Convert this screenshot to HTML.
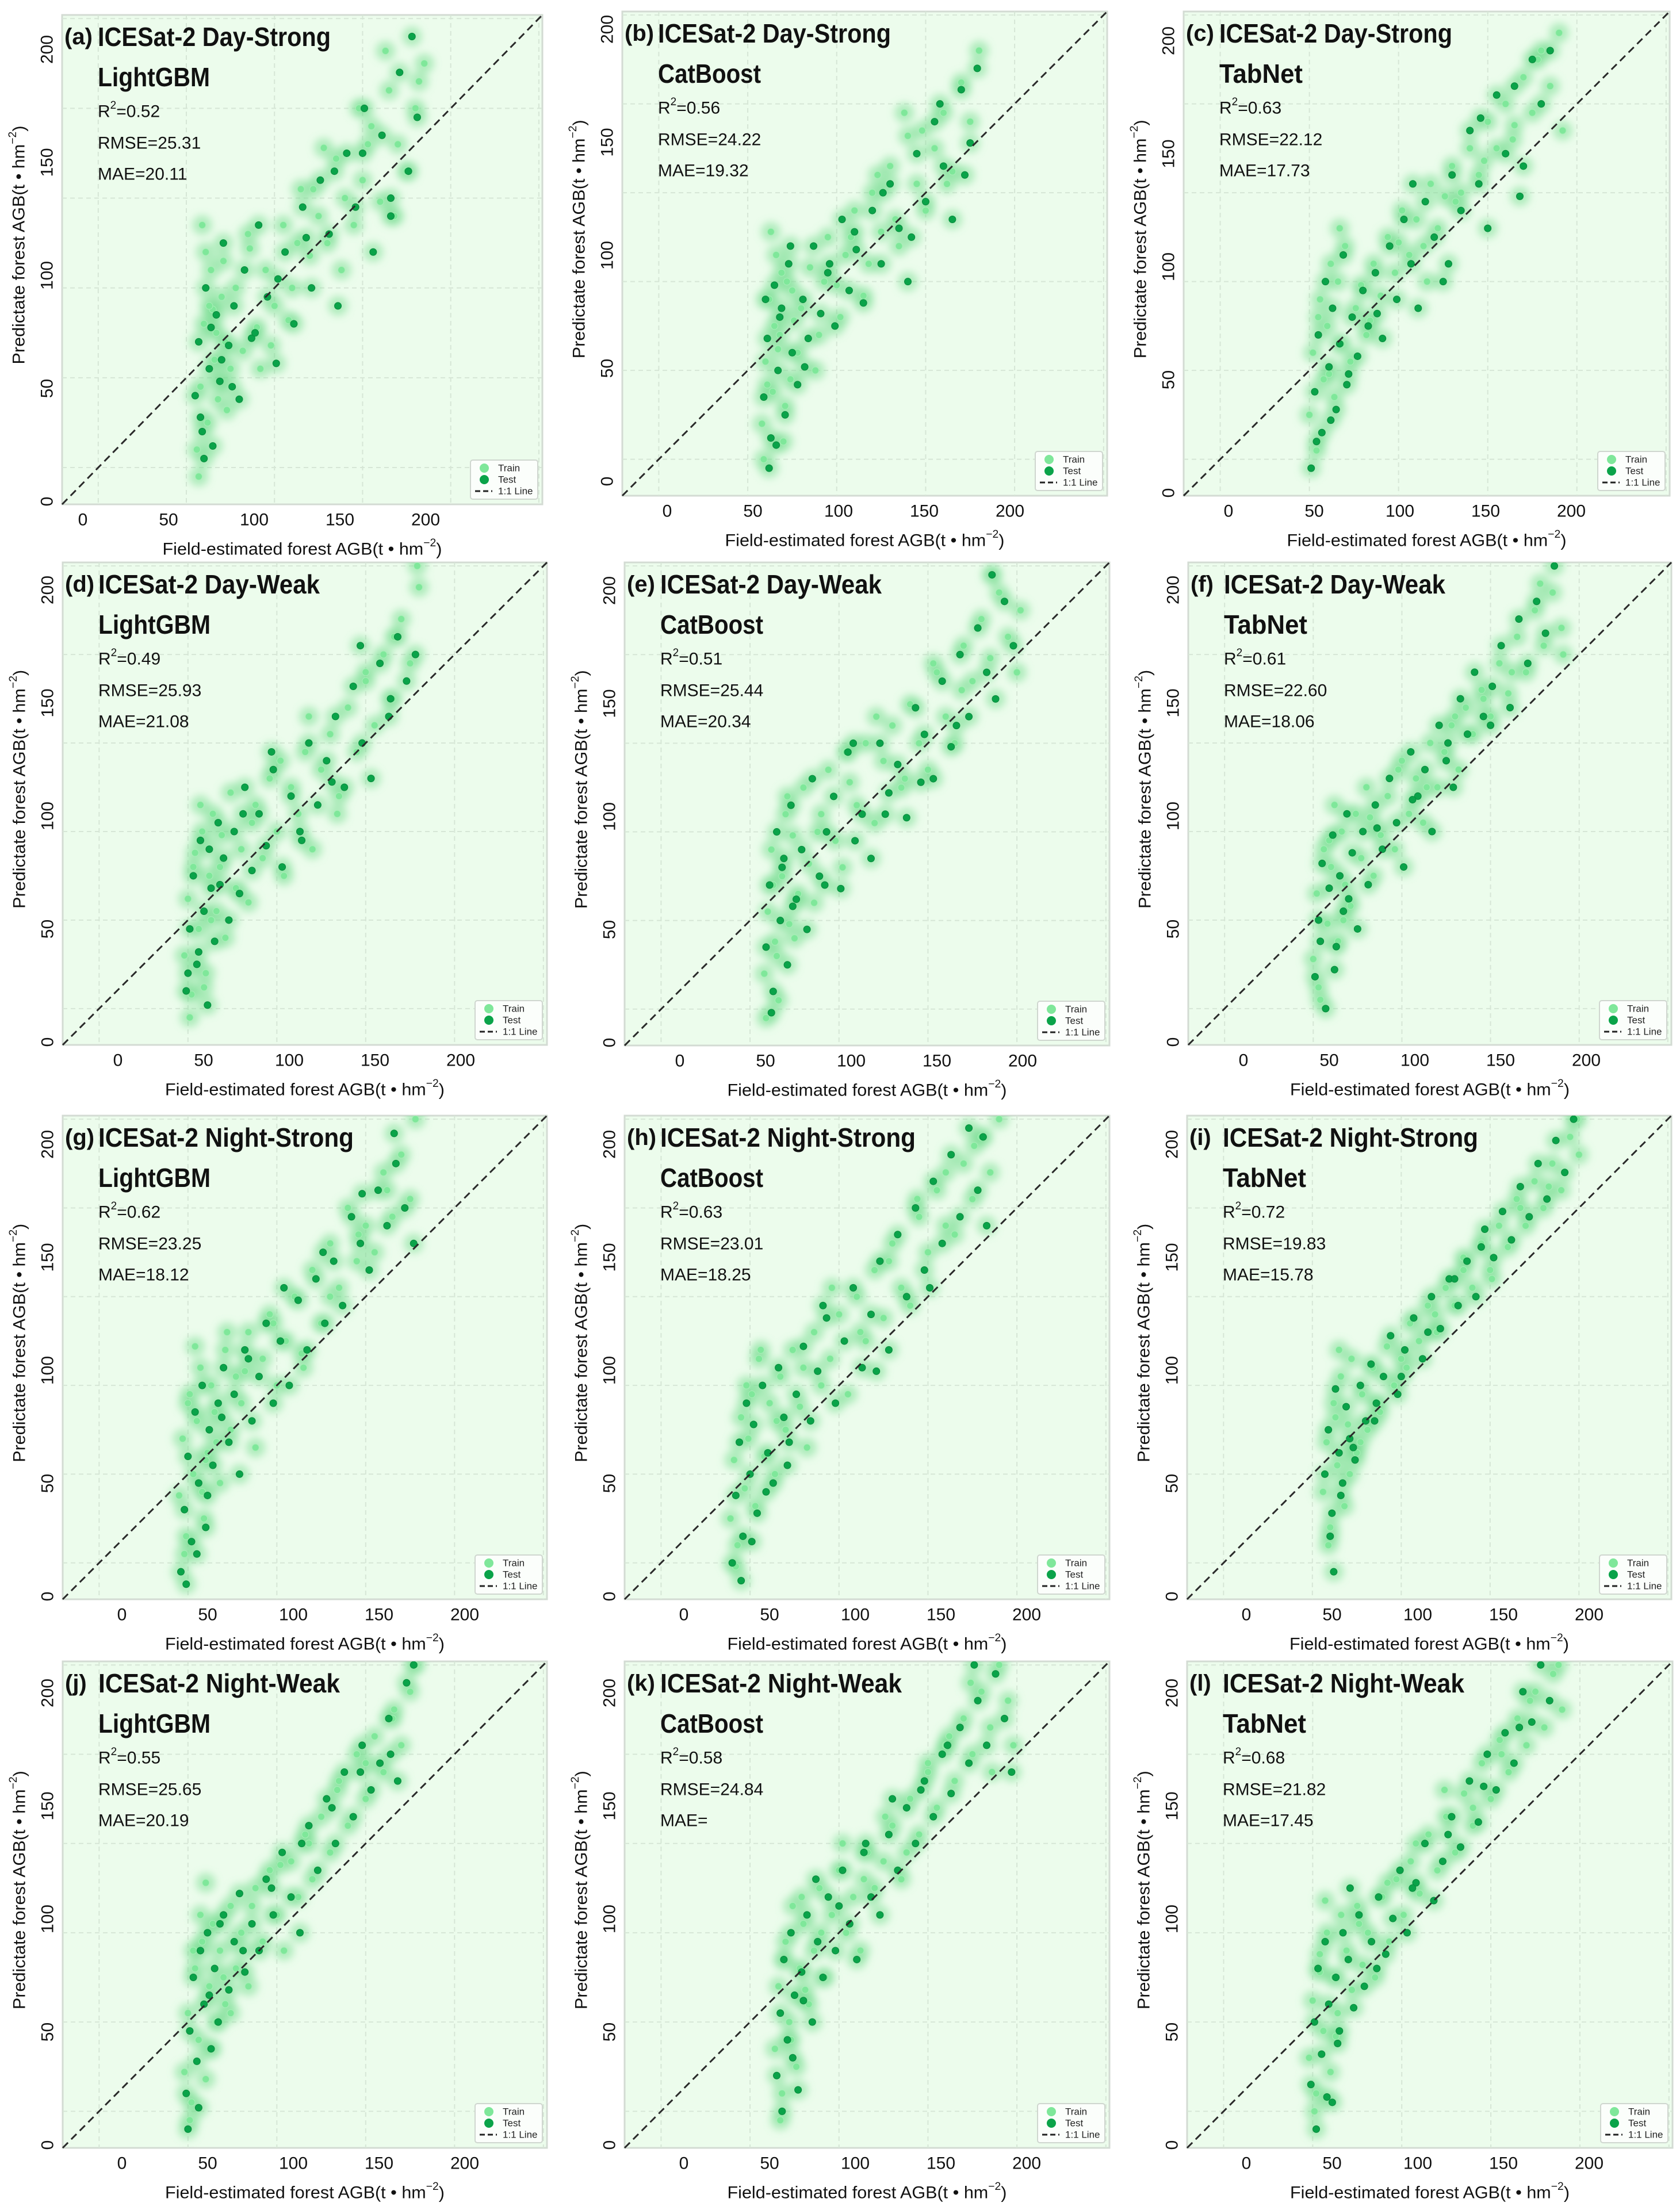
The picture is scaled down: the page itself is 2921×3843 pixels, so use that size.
<!DOCTYPE html>
<html><head><meta charset="utf-8"><title>ICESat-2 AGB model scatter plots</title>
<style>
html,body{margin:0;padding:0;background:#fff;}
svg{display:block;font-family:"Liberation Sans",sans-serif;}
</style></head>
<body>
<svg id="fig" xmlns="http://www.w3.org/2000/svg" width="2921" height="3843" viewBox="0 0 2921 3843">
<defs><filter id="soft" x="-20%" y="-20%" width="140%" height="140%"><feGaussianBlur stdDeviation="7"/></filter></defs>
</svg>
<script>
// ---- data (axis units) ----
const gridVals = [50,100,150,200,250,300];
const tickVals = [0,50,100,150,200];
const domainLo = 29.5, domainHi = 302;

const trainX_a=[106,108,110,112,114,116,118,120,122,125,107,111,115,119,123,128,132,136,140,145,150,155,160,165,170,175,180,185,190,195,200,205,210,215,220,225,230,235,142,158,172,188,203,218,232,109,113,117,121,135,148,163,178,198,213];
const trainY_a=[60,95,130,75,160,110,88,145,120,105,45,170,138,98,82,150,115,172,128,160,140,185,150,205,168,190,175,222,200,185,210,240,198,260,230,215,250,275,105,132,205,160,230,190,265,185,140,125,165,180,118,175,228,250,282];
const testX_a=[105,107,109,111,113,115,117,119,121,124,127,130,133,137,141,146,151,156,161,166,171,176,181,186,191,196,201,206,211,216,221,226,231,108,114,120,126,139,152,168,184,200,216,228,110];
const testY_a=[90,120,70,150,105,62,135,98,175,118,140,88,160,122,185,145,108,170,130,195,150,210,180,140,225,195,250,170,235,200,270,215,245,78,128,110,95,125,155,178,215,225,190,290,55];

const trainX_b=[108,110,112,114,116,118,120,122,124,126,109,113,117,121,125,130,135,140,145,150,155,160,165,170,175,180,185,190,195,200,205,210,215,220,225,230,138,152,168,183,198,212,111,115,119,128,143,158,173,188];
const trainY_b=[70,105,140,88,165,120,60,150,95,128,50,178,112,80,145,135,158,120,175,148,165,190,142,200,178,215,170,232,205,190,225,245,212,262,240,280,100,130,160,185,235,205,92,125,155,110,150,175,210,245];
const testX_b=[109,111,113,115,117,119,121,123,125,128,131,134,137,141,145,149,153,157,161,165,170,175,180,185,190,195,200,205,210,215,220,225,229,112,118,124,132,146,160,176,192,208,222,110,116];
const testY_b=[85,118,62,148,100,135,75,160,110,92,140,118,170,132,155,125,185,145,168,138,190,160,205,180,150,222,195,240,215,185,258,228,270,45,130,170,102,160,178,200,175,250,210,140,58];

const trainX_c=[100,102,104,106,108,110,112,114,116,118,120,123,126,129,132,136,140,144,148,152,156,160,164,168,172,176,180,185,190,195,200,205,210,215,220,225,230,235,240,242,105,111,117,134,150,166,182,198,214,228];
const trainY_c=[75,110,55,140,95,125,160,85,150,115,170,105,135,148,120,160,142,175,155,190,165,185,170,205,180,198,215,200,225,210,240,225,250,238,265,245,280,260,290,235,130,98,180,128,172,150,195,218,230,275];
const testX_c=[101,103,105,107,109,111,113,115,117,119,121,124,127,130,133,137,141,145,149,153,157,161,165,170,175,180,185,190,195,200,205,210,215,220,225,230,235,104,112,122,138,158,178,196,218];
const testY_c=[45,88,120,65,150,102,135,78,115,165,92,130,108,145,125,155,118,170,140,185,160,135,195,175,150,210,190,235,205,180,255,222,260,215,275,250,280,60,72,98,132,205,160,242,198];

const trainX_d=[98,100,102,104,106,108,110,112,114,116,118,121,124,127,130,134,138,142,146,150,154,158,162,166,170,175,180,185,190,195,200,205,210,215,220,225,230,101,107,113,119,136,152,168,184,200,216,229,103,109];
const trainY_d=[80,112,58,138,95,150,70,125,160,105,130,90,172,118,140,110,165,135,180,150,125,175,160,195,140,185,205,170,220,195,235,210,250,225,270,245,288,45,165,100,148,155,190,215,160,240,260,300,130,62];
const testX_d=[99,101,103,105,107,109,111,113,115,117,120,123,126,129,132,136,140,144,148,153,158,163,168,173,178,183,188,193,198,203,208,213,218,223,228,100,106,112,118,131,147,164,181,197,214];
const testY_d=[60,95,125,75,145,105,52,118,88,155,135,100,150,115,175,128,160,142,185,130,170,150,200,165,190,215,175,232,200,180,245,215,260,235,250,70,82,140,120,160,195,145,178,255,225];

const trainX_e=[108,110,112,114,116,118,120,122,124,127,130,133,136,140,144,148,152,156,160,165,170,175,180,185,190,195,200,205,210,215,220,225,230,235,240,245,250,109,115,121,138,154,171,187,203,219,236,252,113,125];
const trainY_e=[70,105,140,88,55,125,160,98,148,115,175,132,110,160,185,145,130,178,165,200,155,190,210,175,222,200,185,240,215,200,255,235,270,248,285,260,240,45,80,170,150,195,215,180,245,230,295,275,120,90];
const testX_e=[109,111,113,115,117,119,121,123,126,129,132,135,139,143,147,151,155,159,163,168,173,178,183,188,193,198,203,208,213,218,223,228,233,238,243,248,112,118,124,142,158,176,196,216,236];
const testY_e=[85,120,60,150,100,135,75,165,112,140,95,180,125,150,170,118,195,145,160,135,200,172,188,158,220,205,180,235,198,250,215,265,240,225,280,255,48,130,108,120,200,160,178,210,295];

const trainX_f=[100,102,104,106,108,110,112,114,116,118,121,124,127,130,134,138,142,146,150,154,158,162,166,170,174,178,182,186,190,195,200,205,210,215,220,225,230,235,240,103,109,117,132,148,164,180,196,212,228,241];
const trainY_f=[78,115,55,140,98,130,165,88,150,120,108,160,135,175,125,148,170,140,190,160,180,155,200,175,195,210,185,220,205,230,215,245,228,260,240,275,255,285,265,62,145,100,158,185,175,215,225,240,290,250];
const testX_f=[101,103,105,107,109,111,113,115,117,119,122,125,128,131,135,139,143,147,151,155,159,163,167,171,175,179,183,187,191,196,201,206,211,216,221,226,231,236,104,112,120,136,156,176,200];
const testY_f=[68,100,132,50,118,148,85,125,105,160,138,95,150,120,165,140,180,155,130,195,170,185,150,210,190,175,225,205,240,215,232,255,220,270,245,280,262,300,88,72,112,152,168,200,210];

const trainX_g=[95,97,99,101,103,105,107,109,111,113,115,118,121,124,127,130,134,138,142,146,150,155,160,165,170,175,180,185,190,195,200,205,210,215,220,225,228,98,104,110,116,132,148,164,180,196,212,100,108,122];
const trainY_g=[88,120,65,145,100,130,160,75,112,150,135,95,170,125,155,140,180,115,165,190,150,175,200,160,215,185,230,205,250,220,240,225,270,245,280,255,300,55,172,108,118,158,185,168,200,235,260,140,90,180];
const testX_g=[96,98,100,102,104,106,108,110,112,114,117,120,123,126,129,132,136,140,144,148,152,157,162,167,172,177,182,187,192,197,202,207,212,217,222,227,99,105,111,119,134,154,176,198,216];
const testY_g=[45,80,110,62,135,95,150,70,125,105,140,160,118,145,100,170,130,155,185,140,175,150,198,170,210,185,220,195,245,230,215,260,240,275,250,230,38,55,88,132,165,205,225,258,292];

const trainX_h=[89,91,93,95,97,99,101,103,105,108,111,114,117,120,124,128,132,136,140,145,150,155,160,165,170,175,180,185,190,195,200,205,210,215,220,225,230,235,240,92,98,106,115,130,146,162,178,194,210,226];
const trainY_h=[75,108,60,132,92,120,145,82,165,110,140,100,155,125,170,138,115,180,150,165,190,145,200,175,215,188,230,205,195,245,225,260,240,235,275,255,290,270,300,48,150,170,130,160,205,180,220,255,270,285];
const testX_h=[90,92,94,96,98,100,102,104,107,110,113,116,119,122,126,130,134,138,143,148,153,158,163,168,173,178,183,188,193,198,203,208,213,218,223,228,233,95,101,109,121,141,171,201,231];
const testY_h=[50,88,118,65,140,100,128,78,150,112,95,160,132,118,145,172,130,158,188,140,175,205,160,190,220,170,235,200,250,215,265,230,280,245,295,260,240,40,62,90,105,195,158,205,290];

const trainX_i=[106,108,110,112,114,116,118,120,122,125,128,131,134,138,142,146,150,155,160,165,170,175,180,185,190,195,200,205,210,215,220,225,230,235,240,245,250,109,115,121,137,153,169,185,201,217,233,249,113,127];
const trainY_i=[90,118,70,140,105,155,82,128,165,112,145,125,160,135,172,150,165,185,175,195,180,205,195,215,205,230,215,240,228,255,240,265,250,275,260,290,280,60,170,100,140,160,190,222,210,250,262,300,132,118];
const testX_i=[107,109,111,113,115,117,119,121,124,127,130,133,136,140,144,148,152,157,162,167,172,177,182,187,192,197,202,207,212,217,222,227,232,237,242,247,110,116,123,135,150,165,180,195,112];
const testY_i=[100,125,78,148,112,95,138,120,108,150,130,162,140,155,178,145,170,188,165,200,182,210,195,220,200,238,222,248,232,262,245,275,255,288,270,300,65,88,115,130,155,180,210,228,45];

const trainX_j=[98,100,102,104,106,108,110,112,114,116,118,121,124,127,130,134,138,142,146,150,154,158,162,166,170,175,180,185,190,195,200,205,210,215,220,225,228,101,107,113,120,136,152,168,184,200,216,103,110,124];
const trainY_j=[72,105,55,130,90,145,68,120,155,100,140,110,165,130,150,120,175,145,185,160,140,190,170,205,180,215,195,235,210,250,225,260,240,270,255,285,300,45,160,85,125,165,188,200,230,245,275,140,178,105];
const testX_j=[99,101,103,105,107,109,111,113,115,117,120,123,126,129,132,136,140,144,148,153,158,163,168,173,178,183,188,193,198,203,208,213,218,223,227,100,106,112,118,131,147,164,181,197,214];
const testY_j=[60,95,125,78,140,110,150,85,130,100,160,118,145,172,128,155,140,180,160,195,170,150,210,185,225,200,240,215,255,230,245,270,235,290,300,40,52,115,155,140,175,200,220,240,250];

const trainX_k=[114,116,118,120,122,124,126,128,130,133,136,139,142,146,150,154,158,162,166,170,175,180,185,190,195,200,205,210,215,220,225,230,235,240,245,248,117,123,129,140,152,164,176,188,200,212,224,236,119,131];
const trainY_k=[85,120,60,145,100,165,75,130,155,110,140,175,125,160,185,150,170,140,195,175,190,210,180,225,205,240,220,255,235,270,250,285,265,300,280,255,45,90,170,150,200,180,215,195,245,260,290,240,135,118];
const testX_k=[115,117,119,121,123,125,127,129,132,135,138,141,144,148,152,156,160,164,168,173,178,183,188,193,198,203,208,213,218,223,228,233,238,243,247,118,124,130,137,150,165,180,196,211,226];
const testY_k=[70,105,135,90,150,115,62,128,160,100,145,125,170,140,185,155,135,195,170,160,205,185,220,200,235,215,250,228,265,245,280,255,295,270,240,50,80,112,180,165,200,225,230,255,300];

const trainX_l=[98,100,102,104,106,108,110,112,114,116,119,122,125,128,131,135,139,143,147,151,155,160,165,170,175,180,185,190,195,200,205,210,215,220,225,230,235,240,101,107,113,126,142,158,174,190,206,222,238,104];
const trainY_l=[80,112,60,138,95,150,72,125,105,160,140,118,165,132,150,125,170,145,180,160,190,172,205,185,215,195,228,210,245,225,258,240,270,255,285,265,295,275,50,168,92,155,178,200,230,220,250,280,300,128];
const testX_l=[99,101,103,105,107,109,111,113,115,117,120,123,126,129,133,137,141,145,149,153,158,163,168,173,178,183,188,193,198,203,208,213,218,223,228,233,102,108,114,121,136,156,176,196,216];
const testY_l=[65,100,130,82,145,110,55,125,95,150,135,108,160,120,145,170,138,158,185,150,178,200,168,190,215,198,235,212,250,230,262,245,285,268,300,280,40,58,88,175,130,175,205,232,265];

const panelTags=['a','b','c','d','e','f','g','h','i','j','k','l'];
const panelTitles=['ICESat-2 Day-Strong','ICESat-2 Day-Strong','ICESat-2 Day-Strong','ICESat-2 Day-Weak','ICESat-2 Day-Weak','ICESat-2 Day-Weak','ICESat-2 Night-Strong','ICESat-2 Night-Strong','ICESat-2 Night-Strong','ICESat-2 Night-Weak','ICESat-2 Night-Weak','ICESat-2 Night-Weak'];
const panelModels=['LightGBM','CatBoost','TabNet','LightGBM','CatBoost','TabNet','LightGBM','CatBoost','TabNet','LightGBM','CatBoost','TabNet'];
const panelR2=['0.52','0.56','0.63','0.49','0.51','0.61','0.62','0.63','0.72','0.55','0.58','0.68'];
const panelRMSE=['25.31','24.22','22.12','25.93','25.44','22.60','23.25','23.01','19.83','25.65','24.84','21.82'];
const panelMAE=['20.11','19.32','17.73','21.08','20.34','18.06','18.12','18.25','15.78','20.19','','17.45'];
const dataTrainX=[trainX_a,trainX_b,trainX_c,trainX_d,trainX_e,trainX_f,trainX_g,trainX_h,trainX_i,trainX_j,trainX_k,trainX_l];
const dataTrainY=[trainY_a,trainY_b,trainY_c,trainY_d,trainY_e,trainY_f,trainY_g,trainY_h,trainY_i,trainY_j,trainY_k,trainY_l];
const dataTestX=[testX_a,testX_b,testX_c,testX_d,testX_e,testX_f,testX_g,testX_h,testX_i,testX_j,testX_k,testX_l];
const dataTestY=[testY_a,testY_b,testY_c,testY_d,testY_e,testY_f,testY_g,testY_h,testY_i,testY_j,testY_k,testY_l];

// ---- layout (pixels) ----
const boxes=[[108,26,835,851],[1082,20,843,842],[2058,20,845,842],
 [109,978,842,839],[1086,978,843,840],[2066,978,840,839],
 [109,1940,842,841],[1086,1940,843,841],[2064,1940,842,841],
 [109,2889,842,846],[1086,2889,843,846],[2064,2889,844,846]];
const xLabOff=[30,72,72,90,90,90,97,97,97,97,97,97];
const yLabOff=[0,20,0,0,0,0,0,0,0,0,0,0];
const titleWidths={'ICESat-2 Day-Strong':405,'ICESat-2 Day-Weak':385,'ICESat-2 Night-Strong':444,'ICESat-2 Night-Weak':420};
const modelWidths={'LightGBM':195,'CatBoost':179,'TabNet':145};

const NS='http://www.w3.org/2000/svg';
const svg=document.getElementById('fig');
function mk(tag,attrs,parent){const e=document.createElementNS(NS,tag);for(const k in attrs)e.setAttribute(k,attrs[k]);(parent||svg).appendChild(e);return e;}

panelTags.forEach((tag,i)=>{
  const [bx,by,W,H]=boxes[i];
  const sx=v=>bx+(v-domainLo)/(domainHi-domainLo)*W;
  const sy=v=>by+H-(v-domainLo)/(domainHi-domainLo)*H;
  const tx=v=>bx+xLabOff[i]+6+2.98*v;
  const ty=v=>by+H-yLabOff[i]-(5+3.93*v);

  const g=mk('g',{});
  
  

  const bg=mk('rect',{x:bx,y:by,width:W,height:H,fill:'#ecfcec',stroke:'#d3dbd3','stroke-width':3},g);
  
  

  const cp=mk('clipPath',{id:'clip'+tag},g);
  mk('rect',{x:bx,y:by,width:W,height:H},cp);

  const grid=mk('g',{stroke:'#d6e6d6','stroke-width':2,'stroke-dasharray':'8 6'},g);
  
  
  gridVals.forEach(v=>{
    if(sx(v)<bx+W){const l=mk('line',{x1:sx(v),x2:sx(v),y1:by,y2:by+H},grid);
    
    }
    if(sy(v)>by){const l2=mk('line',{x1:bx,x2:bx+W,y1:sy(v),y2:sy(v)},grid);
    
    }
  });

  const pts=mk('g',{'clip-path':'url(#clip'+tag+')'},g);
  
  
  const halo=mk('g',{fill:'#6fdc8c','fill-opacity':0.5,filter:'url(#soft)'},pts);
  
  
  const allX=dataTrainX[i].concat(dataTestX[i]), allY=dataTrainY[i].concat(dataTestY[i]);
  for(let k=0;k<Math.min(allX.length,allY.length);k++){
    const h=mk('circle',{cx:sx(allX[k]),cy:sy(allY[k]),r:17},halo);
    
    
  }
  const tx_=dataTrainX[i], ty_=dataTrainY[i];
  for(let k=0;k<Math.min(tx_.length,ty_.length);k++){
    const c=mk('circle',{cx:sx(tx_[k]),cy:sy(ty_[k]),r:6,fill:'#7fe79a',stroke:'#a8f0b8','stroke-width':1},pts);
    
    
  }
  const ex=dataTestX[i], ey=dataTestY[i];
  for(let k=0;k<Math.min(ex.length,ey.length);k++){
    const c=mk('circle',{cx:sx(ex[k]),cy:sy(ey[k]),r:6,fill:'#0aa349',stroke:'#078a3c','stroke-width':1},pts);
    
    
  }

  const diag=mk('line',{x1:sx(domainLo),y1:sy(domainLo),x2:sx(domainHi),y2:sy(domainHi),stroke:'#2a2a2a','stroke-width':3,'stroke-dasharray':'13 8'},g);
  
  

  const t1=mk('text',{x:bx+4,y:by+38,'font-size':40,'font-weight':'bold','dominant-baseline':'central',fill:'#111'},g);
  t1.textContent='('+tag+')';
  
  
  const t2=mk('text',{x:bx+62,y:by+38,'font-size':46,'font-weight':'bold','dominant-baseline':'central',fill:'#111',textLength:titleWidths[panelTitles[i]],lengthAdjust:'spacingAndGlyphs'},g);
  t2.textContent=panelTitles[i];
  
  
  const t3=mk('text',{x:bx+62,y:by+108,'font-size':46,'font-weight':'bold','dominant-baseline':'central',fill:'#111',textLength:modelWidths[panelModels[i]],lengthAdjust:'spacingAndGlyphs'},g);
  t3.textContent=panelModels[i];
  
  
  const r2=mk('text',{x:bx+62,y:by+168,'font-size':30,'dominant-baseline':'central',fill:'#111'},g);
  r2.innerHTML='R<tspan font-size="19" dy="-11">2</tspan><tspan dy="11">=</tspan>'+panelR2[i];
  
  
  const rm=mk('text',{x:bx+62,y:by+223,'font-size':30,'dominant-baseline':'central',fill:'#111'},g);
  rm.textContent='RMSE='+panelRMSE[i];
  
  
  const ma=mk('text',{x:bx+62,y:by+277,'font-size':30,'dominant-baseline':'central',fill:'#111'},g);
  ma.textContent='MAE='+panelMAE[i];
  
  

  tickVals.forEach(v=>{
    const xt=mk('text',{x:tx(v),y:by+H+27,'font-size':30,'text-anchor':'middle','dominant-baseline':'central',fill:'#111'},g);
    xt.textContent=String(v);
    
    
    const yy=ty(v), xx=bx-26;
    const yt=mk('text',{x:xx,y:yy,'font-size':30,'text-anchor':'middle','dominant-baseline':'central',fill:'#111',transform:'rotate(-90 '+xx+' '+yy+')'},g);
    yt.textContent=String(v);
    
    
  });

  const xa=mk('text',{x:bx+W*0.5,y:by+H+78,'font-size':30,'text-anchor':'middle','dominant-baseline':'central',fill:'#111',textLength:486,lengthAdjust:'spacingAndGlyphs'},g);
  xa.innerHTML='Field-estimated forest AGB(t \u2022 hm<tspan font-size="19" dy="-11">\u22122</tspan><tspan dy="11">)</tspan>';
  
  
  const yax=bx-75, yay=by+H*0.47;
  const ya=mk('text',{x:yax,y:yay,'font-size':30,'text-anchor':'middle','dominant-baseline':'central',fill:'#111',textLength:415,lengthAdjust:'spacingAndGlyphs',transform:'rotate(-90 '+yax+' '+yay+')'},g);
  ya.innerHTML='Predictate forest AGB(t \u2022 hm<tspan font-size="19" dy="-11">\u22122</tspan><tspan dy="11">)</tspan>';
  
  

  const lx=bx+W-125, ly=by+H-77;
  const lg=mk('g',{},g);
  
  
  mk('rect',{x:lx,y:ly,width:117,height:68,rx:4,fill:'#fbfefb',stroke:'#cfd6cf','stroke-width':2},lg);
  mk('circle',{cx:lx+24,cy:ly+14,r:8,fill:'#7fe79a'},lg);
  const l1=mk('text',{x:lx+48,y:ly+14,'font-size':17,'dominant-baseline':'central',fill:'#222'},lg);
  l1.textContent='Train';
  
  
  mk('circle',{cx:lx+24,cy:ly+34,r:8,fill:'#0aa349'},lg);
  const l2=mk('text',{x:lx+48,y:ly+34,'font-size':17,'dominant-baseline':'central',fill:'#222'},lg);
  l2.textContent='Test';
  
  
  mk('line',{x1:lx+8,x2:lx+38,y1:ly+54,y2:ly+54,stroke:'#222','stroke-width':3,'stroke-dasharray':'9 5'},lg);
  const l3=mk('text',{x:lx+48,y:ly+54,'font-size':17,'dominant-baseline':'central',fill:'#222'},lg);
  l3.textContent='1:1 Line';
  
  
});
</script>
</body></html>
